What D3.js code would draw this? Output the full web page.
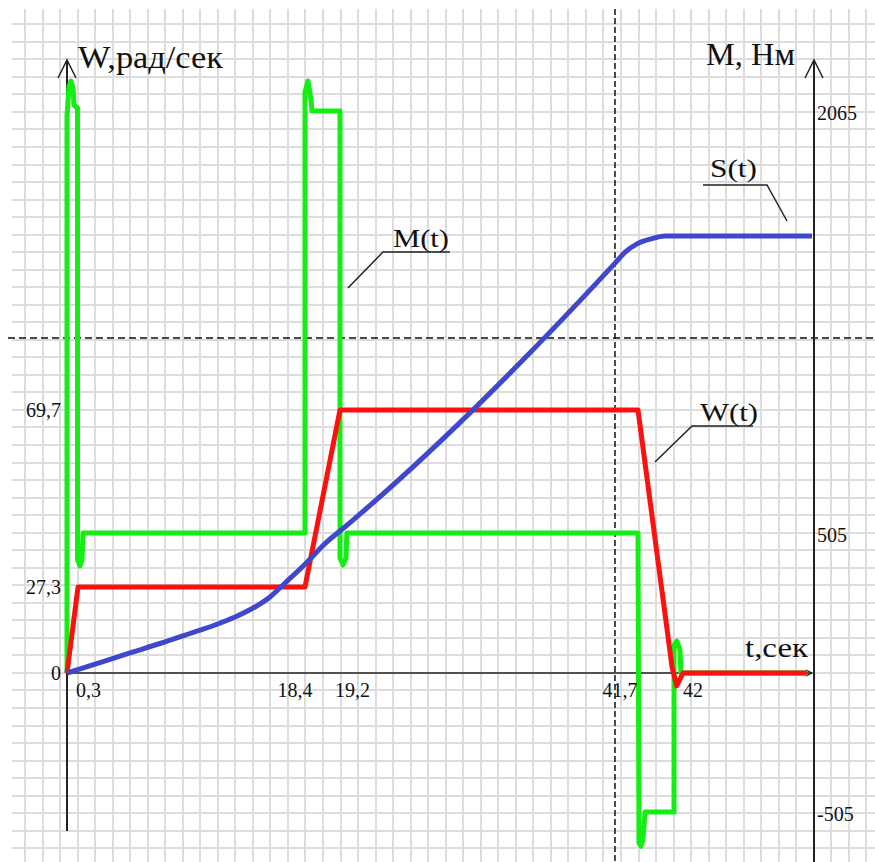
<!DOCTYPE html>
<meta charset="utf-8">
<script src="https://d3js.org/d3.v7.min.js"></script>
<style>
body { margin: 0; background: #fff; }
text { font-family: "Liberation Serif", "Times New Roman", serif; fill: #111; }
</style>
<div id="my_dataviz"></div>
<script>

// tick labels on the time axis
var tTicks = [0.3, 18.4, 19.2, 41.7, 42];
var tLabels = ["0,3", "18,4", "19,2", "41,7", "42"];
// left axis, W rad/s
var wTicks = [0, 27.3, 69.7];
var wLabels = ["0", "27,3", "69,7"];
// right axis, M Nm
var mTicks = [2065, 505, -505];
var mLabels = ["2065", "505", "-505"];

// W(t)
var wTime = [0, 0.3, 18.4, 19.2, 41.7, 41.976, 42.13, 42.61, 52.1];
var wValue = [0, 27.3, 27.3, 69.7, 69.7, 1.9, -4.1, 0, 0];

// M(t)
var mTime = [0, 0, 0.055, 0.109, 0.164, 0.191, 0.286, 0.286, 0.46, 0.62, 0.70, 18.4,
  18.4, 18.469, 18.537, 18.56, 19.2, 19.2, 19.43, 19.65, 19.72, 41.7,
  41.708, 41.724, 41.74, 41.757, 41.992, 41.992, 42.15, 42.38, 42.46, 52.1];
var mValue = [0, 2047, 2157, 2176, 2150, 2087, 2076, 408, 386, 408, 505, 505,
  2135, 2176, 2106, 2065, 2065, 415, 390, 415, 505, 505,
  -618, -629, -607, -505, -505, 101, 115, 83, 0, 0];

// S(t), relative units
var sTime = [0, 2.05, 4.45, 6.84, 9.23, 11.23, 12.82, 14.41, 15.61, 16.81, 18.4, 18.9, 19.2, 20.18,
  39.97, 40.73, 41.63, 41.8, 41.92, 52.5];
var sValue = [0, 0.024, 0.046, 0.0675, 0.0904, 0.1098, 0.128, 0.151, 0.174, 0.206, 0.249, 0.300, 0.325, 0.350,
  0.938, 0.963, 0.982, 0.993, 1.0, 1.0];

var width = 875, height = 862;

var svg = d3.select("#my_dataviz")
  .append("svg")
    .attr("width", width)
    .attr("height", height);

// scales (the sheet is not drawn to a single scale, so piecewise)
var x = d3.scaleLinear()
  .domain([0, 0.3, 18.4, 19.2, 41.7, 42, 52.5])
  .range([67, 78, 305, 340, 638, 675, 812]);
var yW = d3.scaleLinear()
  .domain([0, 27.3, 69.7])
  .range([673, 587, 410]);
var yM = d3.scaleLinear()
  .domain([-505, 0, 505, 2065])
  .range([812, 673, 533, 111]);
var yS = d3.scaleLinear()
  .domain([0, 1])
  .range([673, 236]);

// graph paper
var step = 17.53;
svg.append("g").selectAll("line")
  .data(d3.range(25, width, step))
  .enter().append("line")
    .attr("x1", function(d) { return Math.round(d); })
    .attr("x2", function(d) { return Math.round(d); })
    .attr("y1", 9).attr("y2", height)
    .attr("stroke", "#dcdcdc").attr("stroke-width", 2);
svg.append("g").selectAll("line")
  .data(d3.range(24.3, height, step))
  .enter().append("line")
    .attr("y1", function(d) { return Math.round(d); })
    .attr("y2", function(d) { return Math.round(d); })
    .attr("x1", 12).attr("x2", width)
    .attr("stroke", "#dcdcdc").attr("stroke-width", 2);

// dashed guides
svg.append("line")
  .attr("x1", 615).attr("x2", 615).attr("y1", 9).attr("y2", height)
  .attr("stroke", "#111").attr("stroke-width", 1.5).attr("stroke-dasharray", "6,3");
svg.append("line")
  .attr("x1", 8).attr("x2", width).attr("y1", 338).attr("y2", 338)
  .attr("stroke", "#111").attr("stroke-width", 1.5).attr("stroke-dasharray", "7,4");

// axes
var axes = svg.append("g").attr("stroke", "#222").attr("fill", "none");
axes.append("line").attr("x1", 67).attr("x2", 67).attr("y1", 60).attr("y2", 831).attr("stroke-width", 2);
axes.append("line").attr("x1", 814).attr("x2", 814).attr("y1", 60).attr("y2", height).attr("stroke-width", 2);
axes.append("line").attr("x1", 67).attr("x2", 812).attr("y1", 673).attr("y2", 673).attr("stroke-width", 1.6);
axes.append("path").attr("d", "M58,78L67,60L76,78").attr("stroke-width", 1.5);
axes.append("path").attr("d", "M805,78L814,60L823,78").attr("stroke-width", 1.5);
axes.append("path").attr("d", "M806,670L812,673L806,676").attr("stroke-width", 1.3);

// series
function series(times, values, yScale, color, curve) {
  var line = d3.line()
    .x(function(d, i) { return x(times[i]); })
    .y(function(d, i) { return yScale(values[i]); })
    .curve(curve || d3.curveLinear);
  svg.append("path")
    .datum(values)
    .attr("d", line)
    .attr("fill", "none")
    .attr("stroke", color)
    .attr("stroke-width", 5)
    .attr("stroke-linejoin", "round");
}
series(mTime, mValue, yM, "#14ee14");
series(wTime, wValue, yW, "#ff1010");
series(sTime, sValue, yS, "#3f48cc", d3.curveMonotoneX);

// tick labels
var tDx = [10.5, -10, 12.5, -18, 18];
svg.append("g").selectAll("text")
  .data(tTicks)
  .enter().append("text")
    .attr("x", function(d, i) { return x(d) + tDx[i]; })
    .attr("y", 697)
    .attr("text-anchor", "middle")
    .style("font-size", "20px")
    .text(function(d, i) { return tLabels[i]; });
svg.append("g").selectAll("text")
  .data(wTicks)
  .enter().append("text")
    .attr("x", 61)
    .attr("y", function(d) { return yW(d) + 7; })
    .attr("text-anchor", "end")
    .style("font-size", "20px")
    .text(function(d, i) { return wLabels[i]; });
svg.append("g").selectAll("text")
  .data(mTicks)
  .enter().append("text")
    .attr("x", 817)
    .attr("y", function(d) { return yM(d) + 9; })
    .style("font-size", "20px")
    .text(function(d, i) { return mLabels[i]; });

// axis titles
svg.append("text").attr("x", 78).attr("y", 68)
  .attr("textLength", 145).attr("lengthAdjust", "spacingAndGlyphs")
  .style("font-size", "31px").text("W,рад/сек");
svg.append("text").attr("x", 706).attr("y", 65)
  .attr("textLength", 89).attr("lengthAdjust", "spacingAndGlyphs")
  .style("font-size", "31px").text("M, Нм");
svg.append("text").attr("x", 745).attr("y", 657)
  .attr("textLength", 63).attr("lengthAdjust", "spacingAndGlyphs")
  .style("font-size", "28px").text("t,сек");

// callouts
var callouts = [
  {label: "S(t)", tx: 710, ty: 177, len: 47, line: "M787,221L767,185L703,185"},
  {label: "M(t)", tx: 393, ty: 247, len: 56, line: "M348,288L383,252L450,252"},
  {label: "W(t)", tx: 700, ty: 421, len: 58, line: "M655,462L692,426L753,426"}
];
callouts.forEach(function(c) {
  svg.append("path").attr("d", c.line)
    .attr("fill", "none").attr("stroke", "#222").attr("stroke-width", 1.5);
  svg.append("text").attr("x", c.tx).attr("y", c.ty)
    .attr("textLength", c.len).attr("lengthAdjust", "spacingAndGlyphs")
    .style("font-size", "26px").text(c.label);
});

</script>
